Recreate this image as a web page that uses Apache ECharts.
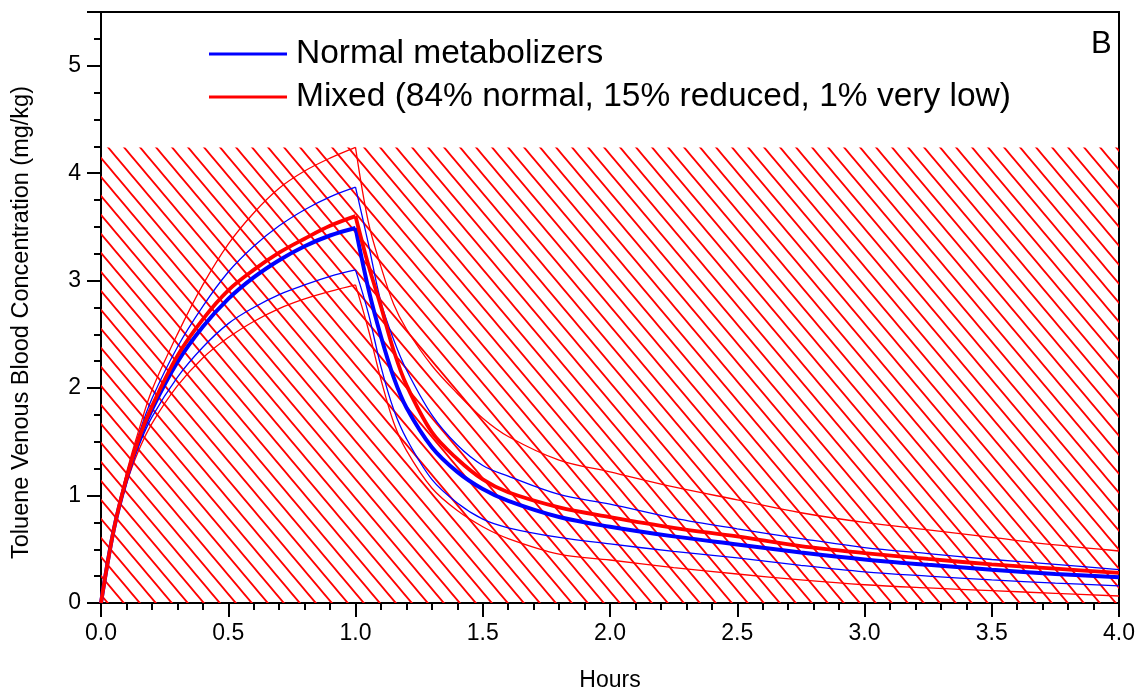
<!DOCTYPE html>
<html>
<head>
<meta charset="utf-8">
<script src="https://cdn.jsdelivr.net/npm/echarts@6/dist/echarts.min.js"></script>
<style>
  html, body { margin: 0; padding: 0; background: #ffffff; }
  #chart { width: 1141px; height: 694px; }
</style>
</head>
<body>
<div id="chart"></div>
<script>
// Time after start of a 1-hour toluene exposure (hours)
const hours = [0, 0.05, 0.1, 0.15, 0.2, 0.3, 0.4, 0.5, 0.6, 0.7, 0.8, 0.9, 1.0,
               1.05, 1.1, 1.15, 1.2, 1.3, 1.4, 1.5, 1.6, 1.8, 2.0, 2.25, 2.5, 2.75,
               3.0, 3.25, 3.5, 3.75, 4.0];
// Exposure ends here: uptake phase before, washout phase after
const exposureEnd = 1.0;

// Venous blood concentration (mg/kg), normal metabolizers: mean and bounds
const normalMean  = [0, 0.68, 1.15, 1.52, 1.80, 2.24, 2.57, 2.83, 3.03, 3.19, 3.32, 3.42, 3.49,
                     2.93, 2.48, 2.10, 1.82, 1.45, 1.22, 1.06, 0.95, 0.80, 0.71, 0.62, 0.545, 0.47,
                     0.405, 0.355, 0.31, 0.27, 0.24];
const normalUpper = [0, 0.69, 1.19, 1.58, 1.90, 2.38, 2.76, 3.08, 3.32, 3.51, 3.66, 3.78, 3.87,
                     3.35, 2.80, 2.45, 2.17, 1.75, 1.47, 1.28, 1.18, 1.01, 0.92, 0.79, 0.69, 0.60,
                     0.515, 0.46, 0.405, 0.36, 0.31];
const normalLower = [0, 0.67, 1.13, 1.47, 1.73, 2.10, 2.38, 2.60, 2.75, 2.87, 2.96, 3.04, 3.10,
                     2.70, 2.20, 1.80, 1.53, 1.15, 0.93, 0.78, 0.70, 0.61, 0.55, 0.48, 0.42, 0.35,
                     0.29, 0.25, 0.215, 0.185, 0.16];

// Mixed population (84% normal, 15% reduced, 1% very low): mean and bounds
const mixedMean  = [0, 0.68, 1.16, 1.54, 1.83, 2.30, 2.64, 2.91, 3.10, 3.26, 3.39, 3.51, 3.60,
                    3.15, 2.76, 2.35, 2.03, 1.59, 1.34, 1.15, 1.03, 0.89, 0.80, 0.70, 0.62, 0.53,
                    0.465, 0.41, 0.36, 0.32, 0.28];
const mixedUpper = [0, 0.69, 1.21, 1.62, 1.98, 2.50, 2.96, 3.34, 3.63, 3.86, 4.02, 4.14, 4.24,
                    3.55, 3.13, 2.78, 2.55, 2.21, 1.95, 1.72, 1.55, 1.33, 1.22, 1.08, 0.96, 0.84,
                    0.75, 0.68, 0.61, 0.54, 0.484];
const mixedLower = [0, 0.66, 1.11, 1.43, 1.67, 2.02, 2.28, 2.47, 2.62, 2.74, 2.83, 2.90, 2.96,
                    2.55, 2.08, 1.68, 1.42, 1.07, 0.86, 0.71, 0.60, 0.455, 0.40, 0.33, 0.27, 0.215,
                    0.17, 0.14, 0.115, 0.09, 0.065];

// Shaded band of the mixed population: spans the time axis up to its peak bound
const bandHours = [0, 4.0];
const bandTop   = [4.24, 4.24];

const xTicks = { min: 0, max: 4, major: 0.5, minor: 0.1 };
const yTicks = { min: 0, max: 5.5, major: 1, minor: 0.25 };

const legendNames = ['Normal metabolizers', 'Mixed (84% normal, 15% reduced, 1% very low)'];
const panelLabel = 'B';

const BLUE = '#0000ff';
const RED = '#ff0000';
const FONT = 'Liberation Sans, Arial, sans-serif';

// Diagonal hatch tile ("\" direction)
function hatchPattern(w, h, color, lw) {
  const c = document.createElement('canvas');
  c.width = w; c.height = h;
  const g = c.getContext('2d');
  g.strokeStyle = color;
  g.lineWidth = lw;
  g.beginPath();
  for (const dx of [-w, 0, w]) {
    g.moveTo(dx - w, -h);
    g.lineTo(dx + 2 * w, 2 * h);
  }
  g.stroke();
  return c;
}

const pair = (xs, ys) => xs.map((x, i) => [x, ys[i]]);
const splitAt = hours.indexOf(exposureEnd);

// Each curve is drawn as an uptake part and a washout part so the
// corner at the end of exposure stays sharp while both parts are smooth.
function curve(name, values, color, width, z) {
  const pts = pair(hours, values);
  const base = {
    name: name,
    type: 'line',
    symbol: 'none',
    showSymbol: false,
    smooth: 0.35,
    z: z,
    silent: true,
    lineStyle: { color: color, width: width },
    itemStyle: { color: color },
    emphasis: { disabled: true }
  };
  return [
    Object.assign({}, base, { data: pts.slice(0, splitAt + 1) }),
    Object.assign({}, base, { data: pts.slice(splitAt) })
  ];
}

const chart = echarts.init(document.getElementById('chart'), null, { renderer: 'canvas' });

const axisLineStyle = { lineStyle: { color: '#000', width: 2 } };

chart.setOption({
  animation: false,
  backgroundColor: '#ffffff',
  title: {
    text: panelLabel,
    left: 1086,
    top: 24,
    textStyle: { fontFamily: FONT, fontSize: 31, fontWeight: 'normal', color: '#000' }
  },
  legend: {
    data: legendNames.map(n => ({ name: n, icon: 'rect' })),
    orient: 'vertical',
    left: 209,
    top: 37,
    padding: 0,
    itemWidth: 78,
    itemHeight: 3,
    itemGap: 9,
    selectedMode: false,
    textStyle: { fontFamily: FONT, fontSize: 33.5, color: '#000', padding: [0, 0, 0, 4] }
  },
  grid: {
    left: 101, right: 22, top: 12, bottom: 91,
    outerBoundsMode: 'none',
    containLabel: false,
    show: true, borderColor: '#000', borderWidth: 2, backgroundColor: 'transparent'
  },
  xAxis: [
    {
      type: 'value', min: xTicks.min, max: xTicks.max, interval: xTicks.major,
      name: 'Hours', nameLocation: 'middle', nameGap: 66,
      nameTextStyle: { fontFamily: FONT, fontSize: 23, color: '#000' },
      axisLine: axisLineStyle,
      axisTick: { show: true, inside: false, length: 14, lineStyle: { color: '#000', width: 2 } },
      axisLabel: { fontFamily: FONT, fontSize: 23, color: '#000', margin: 19,
                   formatter: v => v.toFixed(1) },
      splitLine: { show: false }
    },
    {
      type: 'value', min: xTicks.min, max: xTicks.max, interval: xTicks.minor,
      position: 'bottom',
      axisLine: { show: false },
      axisTick: { show: true, inside: false, length: 7, lineStyle: { color: '#000', width: 2 } },
      axisLabel: { show: false },
      splitLine: { show: false }
    }
  ],
  yAxis: [
    {
      type: 'value', min: yTicks.min, max: yTicks.max, interval: yTicks.major,
      name: 'Toluene Venous Blood Concentration (mg/kg)', nameLocation: 'middle', nameGap: 67,
      nameTextStyle: { fontFamily: FONT, fontSize: 23.5, color: '#000', padding: [0, 30, 0, 0] },
      axisLine: axisLineStyle,
      axisTick: { show: true, inside: false, length: 14, lineStyle: { color: '#000', width: 2 } },
      axisLabel: { fontFamily: FONT, fontSize: 23, color: '#000', margin: 20,
                   formatter: v => (Number.isInteger(v) ? String(v) : '') },
      splitLine: { show: false }
    },
    {
      type: 'value', min: yTicks.min, max: yTicks.max, interval: yTicks.minor,
      position: 'left',
      axisLine: { show: false },
      axisTick: { show: true, inside: false, length: 7, lineStyle: { color: '#000', width: 2 } },
      axisLabel: { show: false },
      splitLine: { show: false }
    }
  ],
  series: [
    {
      name: 'band',
      type: 'line',
      data: pair(bandHours, bandTop),
      symbol: 'none',
      silent: true,
      z: 1,
      lineStyle: { width: 0 },
      areaStyle: {
        color: { image: hatchPattern(16, 19, RED, 1.8), repeat: 'repeat' },
        opacity: 1
      }
    },
    ...curve('normal-upper', normalUpper, BLUE, 1.3, 3),
    ...curve('normal-lower', normalLower, BLUE, 1.3, 3),
    ...curve('mixed-upper', mixedUpper, RED, 1.3, 3),
    ...curve('mixed-lower', mixedLower, RED, 1.3, 3),
    ...curve(legendNames[0], normalMean, BLUE, 4, 4),
    ...curve(legendNames[1], mixedMean, RED, 3.8, 5)
  ]
});
</script>
</body>
</html>
